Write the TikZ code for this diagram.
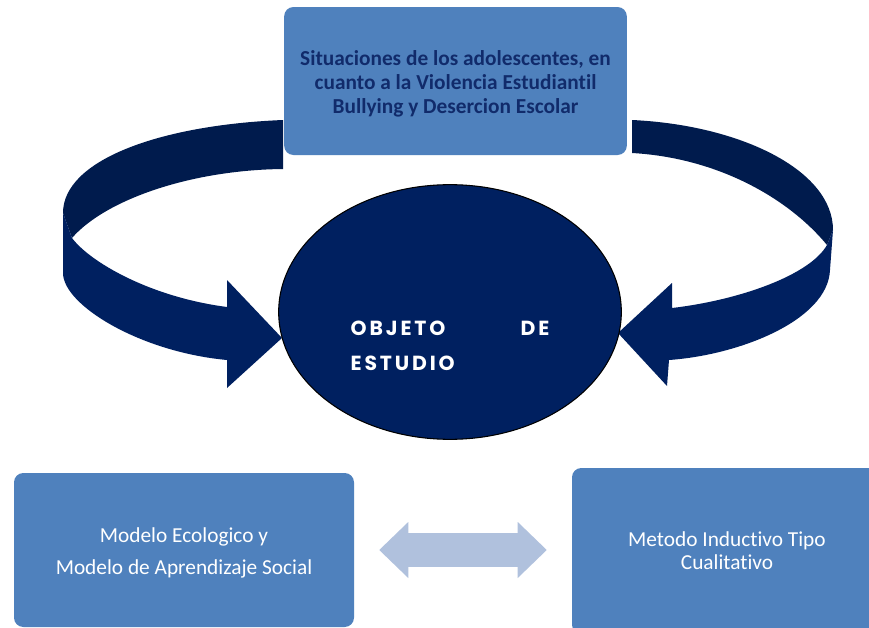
\documentclass[tikz,border=0pt]{standalone}
\usepackage{fontspec}
\setmainfont{Carlito}[Ligatures=NoCommon]
\newfontfamily\objfont{Poppins Bold}[LetterSpace=14]
\usetikzlibrary{shapes.geometric,arrows.meta}
\definecolor{boxblue}{HTML}{4F81BD}
\definecolor{navy}{HTML}{002060}
\definecolor{backnavy}{HTML}{001B4D}
\definecolor{toptext}{HTML}{112B6B}
\definecolor{linkblue}{HTML}{B0C1DD}
\begin{document}
\begin{tikzpicture}[x=0.75pt,y=-0.75pt,
  box/.style={fill=boxblue,rounded corners=7pt,inner sep=0pt},
  boxtext/.style={align=center,inner sep=0pt},
  back/.style={fill=backnavy},
  front/.style={fill=navy},
  linktip/.tip={Triangle[length=21.75pt,width=42pt,line width=0pt]}]
\clip (0,0) rectangle (869,628);
\fill[white] (0,0) rectangle (869,628);
% ribbon on the left
\fill[back] (283,120) .. controls (160,125) and (63,160) .. (63,213) -- (72,238) .. controls (105,200) and (190,170) .. (283,169) -- cycle;
\fill[front] (63,213) -- (63,273) .. controls (63,305) and (140,352) .. (227,360) -- (227,388) -- (282,338) -- (227,280) -- (227,307) .. controls (150,297) and (90,262) .. (72,238) -- cycle;
% ribbon on the right
\fill[back] (632,120) .. controls (740,125) and (833,170) .. (833,230) -- (827,245) .. controls (790,200) and (720,158) .. (632,153) -- cycle;
\fill[front] (833,230) -- (830,270) .. controls (828,320) and (740,355) .. (669,360) -- (667,386) -- (618,333) -- (672,283) -- (672,308) .. controls (740,300) and (810,275) .. (827,245) -- cycle;
% boxes
\node[box,minimum width=257pt,minimum height=111pt] (top) at (455.5,81) {};
\node[boxtext,text=toptext,font=\bfseries\fontsize{16pt}{18pt}\selectfont] (toptxt) at (455.5,84) {Situaciones de los adolescentes, en\\cuanto a la Violencia Estudiantil\\Bullying y Desercion Escolar};
\node[ellipse,draw=black,line width=0.8pt,fill=navy,minimum width=257pt,minimum height=191pt] (obj) at (450,312) {};
\node[text=white,font=\objfont\fontsize{15.3pt}{26pt}\selectfont,text width=149pt,align=left,inner sep=0pt] (objtxt) at (450,346) {OBJETO\hfill DE\\ESTUDIO};
\node[box,minimum width=255pt,minimum height=115.5pt] (eco) at (184,550) {};
\node[boxtext,text=white,font=\fontsize{16pt}{24pt}\selectfont] (ecotxt) at (184,553) {Modelo Ecologico y\\Modelo de Aprendizaje Social};
\node[box,minimum width=232.5pt,minimum height=124.5pt] (met) at (727,551) {};
\node[boxtext,text=white,font=\fontsize{16pt}{17pt}\selectfont] (mettxt) at (727,551) {Metodo Inductivo Tipo\\Cualitativo};
\draw[linkblue,line width=26pt,linktip-linktip,shorten <=18.75pt,shorten >=18.75pt] (eco.east) -- (eco.east -| met.west);
\end{tikzpicture}
\end{document}
